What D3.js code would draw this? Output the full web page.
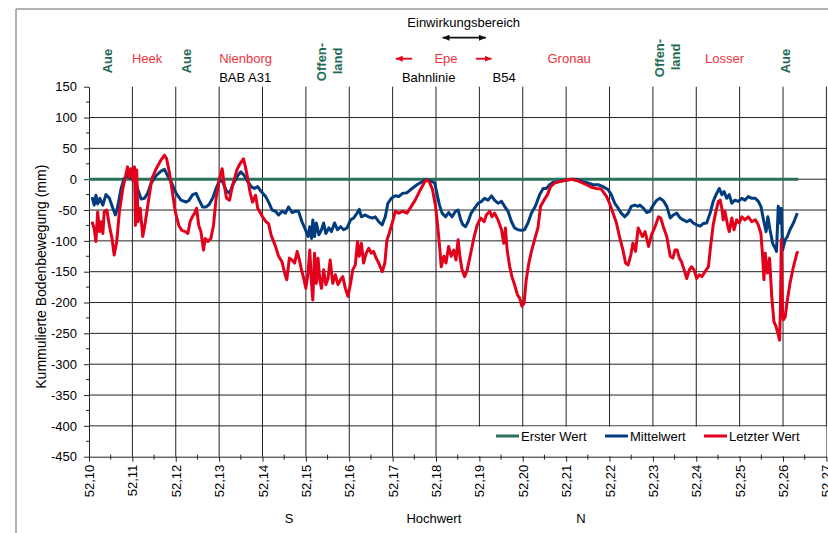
<!DOCTYPE html>
<html>
<head>
<meta charset="utf-8">
<title>Kummulierte Bodenbewegung</title>
<script src="https://d3js.org/d3.v7.min.js"></script>
<style>
  body { margin: 0; background: #fff; }
  text { font-family: "Liberation Sans", Arial, sans-serif; }
</style>
</head>
<body>
<script>
var w = 828, h = 533;
var plotLeft = 89, plotRight = 826.4, plotTop = 86.7, plotBottom = 456.7;

var xTicks = [52.10, 52.11, 52.12, 52.13, 52.14, 52.15, 52.16, 52.17, 52.18,
              52.19, 52.20, 52.21, 52.22, 52.23, 52.24, 52.25, 52.26, 52.27];
var yTicks = [150, 100, 50, 0, -50, -100, -150, -200, -250, -300, -350, -400, -450];
var seriesNames = ["Erster Wert", "Mittelwert", "Letzter Wert"];
var seriesColors = ["#2a715c", "#003c7e", "#e3001b"];

var ersterWert = [[52.1000, 0], [52.2635, 0]];

var mittelwert = [
  [52.1007,-29],[52.1012,-42],[52.1016,-26],[52.1020,-40],[52.1025,-31],[52.1032,-42],[52.1039,-25],
  [52.1047,-31],[52.1055,-47],[52.1061,-58],[52.1066,-45],[52.1074,-15],[52.1081,1],[52.1089,5],
  [52.1097,1],[52.1105,4],[52.1112,-15],[52.1120,-32],[52.1128,-31],[52.1135,-23],[52.1143,-7],
  [52.1155,6],[52.1166,13],[52.1174,16],[52.1181,6],[52.1189,-4],[52.1201,-23],[52.1212,-34],
  [52.1224,-37],[52.1231,-34],[52.1239,-25],[52.1247,-23],[52.1254,-34],[52.1262,-45],[52.1270,-45],
  [52.1277,-41],[52.1285,-31],[52.1293,-15],[52.1301,-2],[52.1308,-4],[52.1316,-18],[52.1324,-23],
  [52.1331,-10],[52.1343,6],[52.1350,12],[52.1358,6],[52.1366,-4],[52.1374,-12],[52.1381,-15],
  [52.1389,-12],[52.1397,-20],[52.1408,-29],[52.1416,-40],
  [52.1422,-50],[52.1430,-52],[52.1437,-58],[52.1445,-52],[52.1453,-55],[52.1460,-45],[52.1468,-54],
  [52.1476,-52],[52.1483,-52],[52.1491,-69],[52.1499,-82],[52.1505,-93],[52.1509,-77],[52.1513,-96],
  [52.1516,-66],[52.1520,-93],[52.1524,-71],[52.1530,-90],[52.1536,-82],[52.1541,-71],[52.1546,-88],
  [52.1553,-79],[52.1559,-85],[52.1566,-71],[52.1573,-82],[52.1580,-77],[52.1587,-82],[52.1595,-79],
  [52.1603,-66],[52.1610,-63],[52.1618,-55],[52.1623,-49],[52.1628,-61],[52.1636,-58],[52.1645,-61],
  [52.1653,-63],[52.1660,-61],[52.1668,-69],[52.1676,-74],[52.1683,-61],[52.1689,-39],[52.1697,-31],
  [52.1706,-27],[52.1714,-28],[52.1723,-23],[52.1733,-22],[52.1745,-15],[52.1756,-9],[52.1768,-4],
  [52.1775,-1],[52.1783,-2],[52.1791,-4],[52.1797,-6],[52.1802,-23],[52.1808,-42],[52.1814,-55],
  [52.1822,-61],[52.1829,-54],[52.1837,-61],[52.1845,-52],
  [52.1851,-50],[52.1857,-66],[52.1862,-74],[52.1868,-77],[52.1874,-69],[52.1881,-55],[52.1889,-47],
  [52.1897,-39],[52.1905,-36],[52.1912,-31],[52.1920,-34],[52.1928,-27],[52.1935,-34],[52.1943,-39],
  [52.1951,-36],[52.1958,-44],[52.1966,-52],[52.1974,-69],[52.1981,-79],[52.1989,-82],[52.1997,-83],
  [52.2004,-82],[52.2012,-71],[52.2020,-55],[52.2029,-44],[52.2039,-25],[52.2047,-15],[52.2054,-15],
  [52.2062,-9],[52.2070,-5],[52.2081,-4],[52.2093,-2],[52.2104,-1],[52.2116,0],[52.2127,-1],
  [52.2139,-4],[52.2150,-6],[52.2162,-9],[52.2174,-9],[52.2185,-12],[52.2197,-17],[52.2204,-25],
  [52.2212,-39],[52.2220,-47],[52.2227,-55],[52.2235,-61],[52.2243,-55],[52.2250,-44],[52.2258,-42],
  [52.2266,-44],
  [52.2270,-42],[52.2278,-47],[52.2286,-54],[52.2293,-52],[52.2301,-42],[52.2309,-34],[52.2316,-31],
  [52.2324,-35],[52.2332,-44],[52.2340,-63],[52.2347,-58],[52.2355,-55],[52.2363,-63],[52.2370,-66],
  [52.2378,-69],[52.2386,-66],[52.2393,-71],[52.2401,-74],[52.2409,-76],[52.2416,-72],[52.2424,-71],
  [52.2432,-55],[52.2439,-36],[52.2447,-23],[52.2453,-15],[52.2459,-25],[52.2464,-20],[52.2470,-31],
  [52.2476,-25],[52.2482,-39],[52.2489,-34],[52.2497,-36],[52.2505,-31],[52.2512,-34],[52.2520,-28],
  [52.2528,-31],[52.2536,-31],[52.2543,-36],[52.2549,-44],[52.2555,-66],[52.2561,-85],[52.2565,-61],
  [52.2570,-82],[52.2576,-104],[52.2582,-112],[52.2585,-117],[52.2589,-44],[52.2593,-71],[52.2596,-47],
  [52.2599,-115],[52.2605,-98],[52.2610,-93],[52.2616,-82],[52.2624,-71],[52.2633,-55]
];

var letzterWert = [
  [52.1007,-69],[52.1012,-80],[52.1016,-101],[52.1020,-53],[52.1024,-85],[52.1028,-69],[52.1032,-88],
  [52.1035,-53],[52.1041,-50],[52.1047,-75],[52.1053,-96],[52.1058,-123],[52.1064,-101],[52.1070,-53],
  [52.1078,-15],[52.1084,4],[52.1089,20],[52.1093,4],[52.1097,17],[52.1101,-2],[52.1105,20],
  [52.1107,-75],[52.1110,15],[52.1113,-69],[52.1118,-47],[52.1124,-93],[52.1130,-69],[52.1138,-31],
  [52.1145,1],[52.1155,17],[52.1166,31],[52.1174,39],[52.1179,33],[52.1185,12],[52.1191,-15],
  [52.1199,-53],[52.1207,-75],[52.1214,-83],[52.1222,-85],[52.1228,-88],[52.1233,-69],[52.1238,-61],
  [52.1243,-56],[52.1248,-47],[52.1253,-75],[52.1258,-85],[52.1264,-115],[52.1268,-96],[52.1274,-101],
  [52.1281,-96],[52.1287,-75],[52.1293,-31],[52.1301,1],[52.1307,17],[52.1312,-10],[52.1317,-31],
  [52.1324,-34],[52.1331,-10],[52.1341,15],[52.1348,25],[52.1356,33],[52.1360,22],[52.1366,1],
  [52.1371,-20],[52.1377,-37],[52.1384,-26],[52.1389,-47],[52.1394,-53],[52.1400,-61],[52.1408,-69],
  [52.1414,-72],[52.1420,-91],
  [52.1430,-109],[52.1437,-125],[52.1445,-134],[52.1451,-152],[52.1456,-163],[52.1462,-128],
  [52.1468,-131],[52.1474,-136],[52.1480,-117],[52.1485,-131],[52.1490,-147],[52.1495,-161],
  [52.1500,-177],[52.1505,-152],[52.1509,-115],[52.1513,-169],[52.1516,-196],[52.1520,-120],
  [52.1524,-169],[52.1528,-128],[52.1532,-163],[52.1536,-177],[52.1541,-147],[52.1546,-171],
  [52.1551,-161],[52.1556,-131],[52.1562,-169],[52.1568,-155],[52.1574,-171],[52.1580,-163],
  [52.1585,-158],[52.1591,-177],[52.1597,-190],[52.1603,-169],[52.1608,-147],[52.1614,-139],
  [52.1619,-101],[52.1623,-125],[52.1628,-104],[52.1633,-136],[52.1639,-120],[52.1645,-112],
  [52.1651,-120],[52.1656,-117],[52.1662,-128],[52.1668,-136],[52.1676,-150],[52.1682,-136],
  [52.1687,-98],[52.1692,-88],[52.1700,-69],[52.1706,-52],[52.1714,-55],[52.1723,-52],[52.1733,-55],
  [52.1743,-44],[52.1752,-34],[52.1764,-17],[52.1774,-4],[52.1779,-1],[52.1785,-5],[52.1792,-17],
  [52.1799,-44],[52.1804,-77],[52.1809,-115],[52.1812,-142],[52.1818,-125],[52.1823,-136],
  [52.1829,-109],[52.1835,-125],[52.1841,-115],[52.1846,-131],
  [52.1851,-98],[52.1855,-125],[52.1860,-147],[52.1866,-158],[52.1872,-147],[52.1880,-120],
  [52.1888,-93],[52.1895,-74],[52.1903,-63],[52.1911,-69],[52.1916,-58],[52.1924,-52],[52.1929,-61],
  [52.1935,-55],[52.1943,-66],[52.1951,-82],[52.1956,-104],[52.1960,-79],[52.1964,-115],[52.1970,-142],
  [52.1975,-158],[52.1981,-171],[52.1988,-188],[52.1993,-193],[52.1998,-206],[52.2003,-201],
  [52.2008,-163],[52.2014,-136],[52.2020,-117],[52.2028,-96],[52.2035,-79],[52.2041,-44],[52.2049,-34],
  [52.2057,-25],[52.2064,-12],[52.2074,-6],[52.2085,-4],[52.2097,-2],[52.2112,0],[52.2124,-2],
  [52.2135,-5],[52.2147,-9],[52.2158,-13],[52.2170,-15],[52.2181,-16],[52.2193,-28],[52.2200,-39],
  [52.2208,-55],[52.2216,-71],[52.2223,-93],[52.2231,-115],[52.2237,-136],[52.2243,-139],[52.2249,-123],
  [52.2254,-104],[52.2260,-117],[52.2266,-79],
  [52.2276,-93],[52.2282,-85],[52.2290,-109],[52.2297,-90],[52.2305,-77],[52.2313,-61],[52.2318,-63],
  [52.2324,-77],[52.2332,-93],[52.2340,-125],[52.2346,-128],[52.2351,-115],[52.2356,-115],[52.2361,-128],
  [52.2366,-134],[52.2372,-147],[52.2378,-161],[52.2384,-147],[52.2389,-142],[52.2395,-147],
  [52.2401,-161],[52.2407,-155],[52.2413,-158],[52.2420,-150],[52.2428,-142],[52.2433,-109],
  [52.2439,-74],[52.2446,-50],[52.2451,-36],[52.2455,-34],[52.2459,-47],[52.2462,-66],[52.2466,-52],
  [52.2472,-74],[52.2476,-85],[52.2482,-63],[52.2487,-82],[52.2493,-66],[52.2499,-71],[52.2505,-61],
  [52.2512,-66],[52.2520,-61],[52.2528,-69],[52.2536,-66],[52.2543,-74],[52.2549,-88],[52.2553,-125],
  [52.2556,-163],[52.2559,-120],[52.2564,-152],[52.2569,-128],[52.2574,-190],[52.2579,-231],
  [52.2584,-239],[52.2589,-252],[52.2592,-261],[52.2594,-212],[52.2596,-98],[52.2599,-218],
  [52.2601,-228],[52.2605,-223],[52.2610,-196],[52.2616,-169],[52.2624,-142],[52.2632,-120],
  [52.2635,-117]
];

// places along the profile (Hochwert), shown above the plot
var placeNames = [
  ["Heek", 52.1134], ["Nienborg", 52.1361], ["Epe", 52.1823], ["Gronau", 52.2107], ["Losser", 52.2465]
];
var aueLabels = [52.1043, 52.1224, 52.2605];
var offenlandLabels = [52.1535, 52.2314];
var crossings = [["BAB A31", 52.1360], ["Bahnlinie", 52.1783], ["B54", 52.1957]];
var einwirkung = [52.1815, 52.1915];
var bottomLabels = [["S", 52.1461], ["Hochwert", 52.1795], ["N", 52.2134]];

var svg = d3.select("body").append("svg")
            .attr("width", w)
            .attr("height", h);

var xScale = d3.scaleLinear().domain([52.10, 52.27]).range([plotLeft, plotRight]);
var yScale = d3.scaleLinear().domain([-450, 150]).range([plotBottom, plotTop]);

// outer frame (partly cut off in the original)
svg.append("line").attr("x1", 16).attr("x2", w).attr("y1", 9).attr("y2", 9)
   .attr("stroke", "#999").attr("stroke-width", 1.5);
svg.append("line").attr("x1", 16).attr("x2", 16).attr("y1", 9).attr("y2", h)
   .attr("stroke", "#999").attr("stroke-width", 1.5);

// grid
svg.append("g").selectAll("line")
   .data(yTicks.filter(function(d){ return d < 150 && d > -450; }))
   .enter().append("line")
   .attr("x1", plotLeft).attr("x2", plotRight)
   .attr("y1", function(d){ return yScale(d); })
   .attr("y2", function(d){ return yScale(d); })
   .attr("stroke", "#222").attr("stroke-width", 1);
svg.append("g").selectAll("line")
   .data(xTicks.slice(1))
   .enter().append("line")
   .attr("x1", function(d){ return xScale(d); })
   .attr("x2", function(d){ return xScale(d); })
   .attr("y1", plotTop).attr("y2", plotBottom)
   .attr("stroke", "#222").attr("stroke-width", 1);

// legend background covers the grid
svg.append("rect").attr("x", 440).attr("y", yScale(-400) + 0.7)
   .attr("width", plotRight - 440).attr("height", plotBottom - yScale(-400) - 1.2)
   .attr("fill", "#fff");

// axes
var fmtX = function(d){ return d.toFixed(2).replace(".", ","); };
var xAxis = svg.append("g")
   .attr("transform", "translate(0," + plotBottom + ")")
   .call(d3.axisBottom(xScale).tickValues(xTicks).tickSize(5).tickSizeOuter(0).tickFormat(fmtX));
xAxis.selectAll("text")
   .attr("transform", "rotate(-90)")
   .attr("x", -8).attr("y", 0).attr("dy", "0.35em")
   .attr("text-anchor", "end");
xAxis.selectAll(".minor").data(xTicks.slice(1)).enter().append("line")
   .attr("x1", function(d){ return xScale(d - 0.005); })
   .attr("x2", function(d){ return xScale(d - 0.005); })
   .attr("y1", -2).attr("y2", 3)
   .attr("stroke", "#222");

var yAxis = svg.append("g")
   .attr("transform", "translate(" + plotLeft + ",0)")
   .call(d3.axisLeft(yScale).tickValues(yTicks).tickSize(5).tickSizeOuter(0).tickPadding(7)
           .tickFormat(function(d){ return String(d); }));
yAxis.selectAll(".minor").data(yTicks.slice(1)).enter().append("line")
   .attr("y1", function(d){ return yScale(d + 25); })
   .attr("y2", function(d){ return yScale(d + 25); })
   .attr("x1", -3).attr("x2", 0)
   .attr("stroke", "#222");

svg.selectAll(".tick text").attr("font-size", "13px")
   .attr("font-family", "'Liberation Sans', Arial, sans-serif").attr("fill", "#000");
svg.selectAll(".domain, .tick line").attr("stroke", "#222");

// axis titles
svg.append("text")
   .attr("transform", "translate(41,276.7) rotate(-90)")
   .attr("text-anchor", "middle").attr("dy", "0.35em")
   .attr("font-size", "14px")
   .text("Kummulierte Bodenbewegung (mm)");
svg.append("g").selectAll("text")
   .data(bottomLabels).enter().append("text")
   .attr("x", function(d){ return xScale(d[1]); })
   .attr("y", 522.7)
   .attr("text-anchor", "middle").attr("font-size", "13px")
   .text(function(d){ return d[0]; });

// series
var line = d3.line()
   .x(function(d){ return xScale(d[0]); })
   .y(function(d){ return yScale(d[1]); });
[ersterWert, mittelwert, letzterWert].forEach(function(s, i){
  svg.append("path").datum(s)
     .attr("d", line)
     .attr("fill", "none")
     .attr("stroke", seriesColors[i])
     .attr("stroke-width", 3)
     .attr("stroke-linejoin", "round");
});

// legend
var legendX = [496, 605, 704];
var lg = svg.append("g").selectAll("g").data(seriesNames).enter().append("g");
lg.append("line")
  .attr("x1", function(d, i){ return legendX[i]; })
  .attr("x2", function(d, i){ return legendX[i] + 23; })
  .attr("y1", 436).attr("y2", 436)
  .attr("stroke", function(d, i){ return seriesColors[i]; })
  .attr("stroke-width", 3);
lg.append("text")
  .attr("x", function(d, i){ return legendX[i] + 25; })
  .attr("y", 440.6)
  .attr("font-size", "13px")
  .text(function(d){ return d; });

// annotations above the plot
var green = "#1f6b55", red = "#ee3340";
svg.append("g").selectAll("text").data(placeNames).enter().append("text")
   .attr("x", function(d){ return xScale(d[1]); }).attr("y", 63.3)
   .attr("text-anchor", "middle").attr("font-size", "13px").attr("fill", red)
   .text(function(d){ return d[0]; });
svg.append("g").selectAll("text").data(crossings).enter().append("text")
   .attr("x", function(d){ return xScale(d[1]); }).attr("y", 82)
   .attr("text-anchor", "middle").attr("font-size", "13px").attr("fill", "#000")
   .text(function(d){ return d[0]; });
svg.append("g").selectAll("text").data(aueLabels).enter().append("text")
   .attr("transform", function(d){ return "translate(" + xScale(d) + ",61) rotate(-90)"; })
   .attr("text-anchor", "middle").attr("dy", "0.35em")
   .attr("font-size", "13px").attr("font-weight", "bold").attr("fill", green)
   .text("Aue");
var ol = svg.append("g").selectAll("g").data(offenlandLabels).enter().append("g")
   .attr("transform", function(d, i){ return "translate(" + xScale(d) + "," + (i === 0 ? 62 : 58) + ")"; });
ol.append("text")
   .attr("transform", "translate(0,0) rotate(-90)")
   .attr("text-anchor", "middle").attr("dy", "0.35em")
   .attr("font-size", "13px").attr("font-weight", "bold").attr("fill", green)
   .text("Offen-");
ol.append("text")
   .attr("transform", "translate(16,-1) rotate(-90)")
   .attr("text-anchor", "middle").attr("dy", "0.35em")
   .attr("font-size", "13px").attr("font-weight", "bold").attr("fill", green)
   .text("land");

svg.append("text")
   .attr("x", xScale(d3.mean(einwirkung)) - 0.5).attr("y", 26.7)
   .attr("text-anchor", "middle").attr("font-size", "13px")
   .text("Einwirkungsbereich");

var defs = svg.append("defs");
function marker(id, color, len, wid) {
  defs.append("marker").attr("id", id)
      .attr("markerUnits", "userSpaceOnUse")
      .attr("markerWidth", len).attr("markerHeight", wid)
      .attr("refX", len).attr("refY", wid / 2)
      .attr("orient", "auto-start-reverse")
      .append("path")
      .attr("d", "M0,0L" + len + "," + (wid / 2) + "L0," + wid + "Z")
      .attr("fill", color);
}
marker("headBlack", "#111", 7, 6);
marker("headRed", "#e3001b", 7, 6);

svg.append("line")
   .attr("x1", xScale(einwirkung[0])).attr("x2", xScale(einwirkung[1]))
   .attr("y1", 37.7).attr("y2", 37.7)
   .attr("stroke", "#111").attr("stroke-width", 1.8)
   .attr("marker-start", "url(#headBlack)").attr("marker-end", "url(#headBlack)");

// red arrows either side of Epe
var redArrows = [[52.1745, 52.1707], [52.1892, 52.1928]];
svg.append("g").selectAll("line").data(redArrows).enter().append("line")
   .attr("x1", function(d){ return xScale(d[0]); })
   .attr("x2", function(d){ return xScale(d[1]); })
   .attr("y1", 58.7).attr("y2", 58.7)
   .attr("stroke", "#e3001b").attr("stroke-width", 1.8)
   .attr("marker-end", "url(#headRed)");
</script>
</body>
</html>
